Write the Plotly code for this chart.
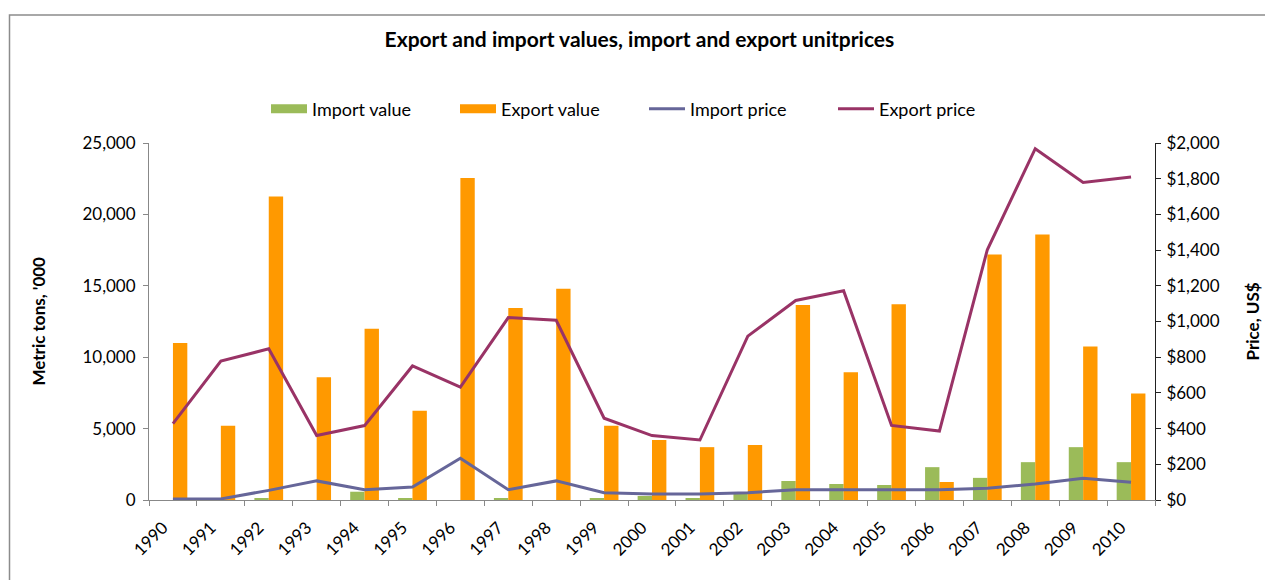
import plotly.graph_objects as go

years = [str(y) for y in range(1990, 2011)]
import_value = [0, 0, 140, 0, 580, 140, 0, 140, 0, 140, 280, 140, 500, 1330, 1120, 1050, 2300, 1550, 2650, 3700, 2650]
export_value = [11000, 5200, 21250, 8600, 12000, 6250, 22550, 13450, 14800, 5200, 4200, 3700, 3850, 13650, 8950, 13700, 1260, 17200, 18600, 10750, 7450]
import_price = [6, 6, 54, 107, 58, 73, 234, 58, 107, 41, 34, 34, 41, 58, 58, 58, 58, 66, 90, 122, 99]
export_price = [428, 778, 847, 361, 417, 751, 632, 1022, 1007, 458, 361, 336, 918, 1118, 1172, 418, 386, 1402, 1968, 1779, 1809]

FONT = "Lato"
GREEN = "#9BBB59"
ORANGE = "#FF9900"
BLUE = "#666699"
PURPLE = "#993366"

W, H = 1265, 580
L, R, T, B = 149, 110, 143, 80
pw, ph = W - L - R, H - T - B

fig = go.Figure()
fig.add_trace(go.Bar(x=years, y=import_value, marker=dict(color=GREEN, line=dict(width=0)),
                     name="Import value", showlegend=False, yaxis="y"))
fig.add_trace(go.Bar(x=years, y=export_value, marker=dict(color=ORANGE, line=dict(width=0)),
                     name="Export value", showlegend=False, yaxis="y"))
fig.add_trace(go.Scatter(x=years, y=import_price, mode="lines", line=dict(color=BLUE, width=3),
                         name="Import price", showlegend=False, yaxis="y2"))
fig.add_trace(go.Scatter(x=years, y=export_price, mode="lines", line=dict(color=PURPLE, width=3),
                         name="Export price", showlegend=False, yaxis="y2"))

# legend-only entries (Excel style keys)
for nm, col, wd in [("Import value", GREEN, 9), ("Export value", ORANGE, 9),
                    ("Import price", BLUE, 3), ("Export price", PURPLE, 3)]:
    fig.add_trace(go.Scatter(x=[None], y=[None], mode="lines", line=dict(color=col, width=wd),
                             name=nm, showlegend=True, yaxis="y2"))

def px_x(p):
    return (p - L) / pw

def px_y(p):
    return (H - B - p) / ph

fig.update_layout(
    width=W, height=H,
    margin=dict(l=L, r=R, t=T, b=B, autoexpand=False),
    paper_bgcolor="white", plot_bgcolor="white",
    font=dict(family=FONT, size=17, color="#000000"),
    title=dict(text="<b>Export and import values, import and export unitprices</b>",
               font=dict(family=FONT, size=21, color="#000000"),
               x=0.5055, xref="container", xanchor="center",
               y=1 - 40 / H, yref="container", yanchor="middle"),
    barmode="group", bargap=0.4, bargroupgap=0,
    legend=dict(orientation="h", xref="container", yref="container",
                x=266 / W, xanchor="left", y=1 - 109 / H, yanchor="middle",
                entrywidth=138, entrywidthmode="pixels", itemwidth=36,
                font=dict(family=FONT, size=18, color="#000000"),
                traceorder="normal", bgcolor="rgba(0,0,0,0)"),
    xaxis=dict(type="category", tickson="boundaries", ticks="outside", ticklen=5,
               tickcolor="#888888", showline=True, linecolor="#888888", linewidth=1,
               tickangle=-45, showgrid=False, zeroline=False, automargin=False,
               tickfont=dict(family=FONT, size=17), ticklabelshift=-10, ticklabelstandoff=10),
    yaxis=dict(range=[0, 25000], dtick=5000, tickformat=",", ticks="outside", ticklen=5,
               tickcolor="#888888", showline=True, linecolor="#888888", linewidth=1,
               showgrid=False, zeroline=False, automargin=False, ticklabelstandoff=4,
               tickfont=dict(family=FONT, size=17)),
    yaxis2=dict(range=[0, 2000], dtick=200, tickformat=",", tickprefix="$", overlaying="y",
                side="right", ticks="outside", ticklen=5, tickcolor="#222222",
                showline=True, linecolor="#222222", linewidth=1, automargin=False,
                showgrid=False, zeroline=False, ticklabelstandoff=2,
                tickfont=dict(family=FONT, size=17)),
    annotations=[
        dict(text="<b>Metric tons, '000</b>", textangle=-90, xref="paper", yref="paper",
             x=px_x(38), y=0.5, xanchor="center", yanchor="middle", showarrow=False,
             font=dict(family=FONT, size=17, color="#000000")),
        dict(text="<b>Price, US$</b>", textangle=-90, xref="paper", yref="paper",
             x=px_x(1252), y=0.5, xanchor="center", yanchor="middle", showarrow=False,
             font=dict(family=FONT, size=17, color="#000000")),
    ],
    shapes=[
        dict(type="rect", xref="paper", yref="paper",
             x0=px_x(9.5), x1=px_x(W + 50), y0=px_y(H + 50), y1=px_y(15),
             line=dict(color="#8C8C8C", width=1.5), fillcolor="rgba(0,0,0,0)", layer="below"),
    ],
)

fig.write_html("out.html", config={"displayModeBar": False},
               post_script="document.body.style.margin='0';document.body.style.padding='0';"
                           "document.body.style.overflow='hidden';")
